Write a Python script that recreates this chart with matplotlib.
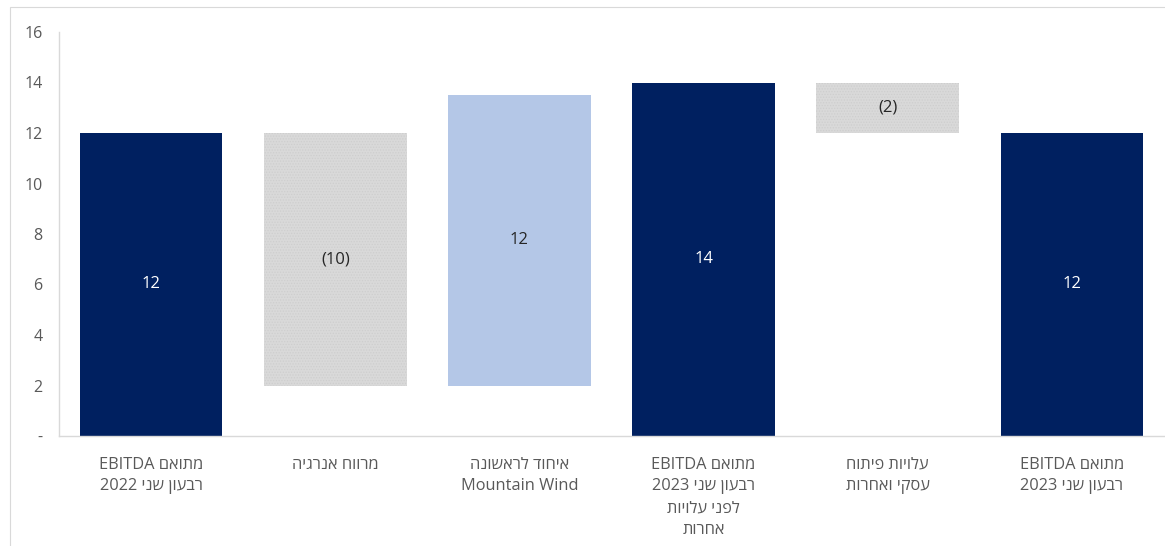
import re
import matplotlib
matplotlib.use("Agg")
import matplotlib.pyplot as plt
from matplotlib.patches import Rectangle

plt.rcParams['font.family'] = ['Open Sans', 'DejaVu Sans']
plt.rcParams['hatch.linewidth'] = 0.6


def rtl(s):
    # matplotlib draws left to right, so flip Hebrew runs, keep Latin/digit runs in order
    flipped = s[::-1]
    return re.sub(r'[A-Za-z0-9]+(?: [A-Za-z0-9]+)*', lambda m: m.group()[::-1], flipped)


# categories (each a list of lines, logical order)
categories = [
    [rtl("מתואם EBITDA"), rtl("רבעון שני 2022")],
    [rtl("מרווח אנרגיה")],
    [rtl("איחוד לראשונה"), "Mountain Wind"],
    [rtl("מתואם EBITDA"), rtl("רבעון שני 2023"), rtl("לפני עלויות"), rtl("אחרות")],
    [rtl("עלויות פיתוח"), rtl("עסקי ואחרות")],
    [rtl("מתואם EBITDA"), rtl("רבעון שני 2023")],
]
bar_bottom = [0, 2, 2, 0, 12, 0]
bar_top = [12, 12, 13.5, 14, 14, 12]
value_labels = ["12", "(10)", "12", "14", "(2)", "12"]
kinds = ["total", "down", "up", "total", "down", "total"]

yticks = [0, 2, 4, 6, 8, 10, 12, 14, 16]
ytick_labels = ["-", "2", "4", "6", "8", "10", "12", "14", "16"]

NAVY = "#002060"
LIGHT_BLUE = "#b4c7e7"
GREY = "#d9d9d9"
TEXT = "#595959"

fig = plt.figure(figsize=(11.65, 5.46), dpi=100)
W, H = 1165, 546
ax = fig.add_axes([59 / W, 110 / H, (1164 - 59) / W, (436 - 32) / H])

# outer chart frame
fig.patches.append(Rectangle((10 / W, -0.1), 1.2, (546 - 7) / H + 0.1, transform=fig.transFigure,
                             fill=False, edgecolor="#d9d9d9", linewidth=0.8))

x = list(range(len(categories)))
for i in x:
    h = bar_top[i] - bar_bottom[i]
    if kinds[i] == "total":
        ax.bar(i, h, bottom=bar_bottom[i], width=0.775, color=NAVY, zorder=2)
        tc = "white"
    elif kinds[i] == "up":
        ax.bar(i, h, bottom=bar_bottom[i], width=0.775, color=LIGHT_BLUE, zorder=2)
        tc = "#262626"
    else:
        ax.bar(i, h, bottom=bar_bottom[i], width=0.775, facecolor=GREY,
               edgecolor="#cecece", linewidth=0, hatch="......", zorder=2)
        tc = "#262626"
    ax.text(i, bar_bottom[i] + h / 2, value_labels[i], ha="center", va="center",
            color=tc, fontsize=12, zorder=3)

ax.set_xlim(-0.5, len(categories) - 0.5)
ax.set_ylim(0, 16)
ax.set_yticks(yticks)
ax.set_yticklabels(ytick_labels, color=TEXT, fontsize=11.5)
ax.tick_params(axis="y", length=0, pad=12)
ax.set_xticks(x)
ax.set_xticklabels(["\n".join(c) for c in categories], color=TEXT, fontsize=11.8,
                   linespacing=1.47)
ax.tick_params(axis="x", length=0, pad=15)

for side in ["top", "right"]:
    ax.spines[side].set_visible(False)
ax.spines["left"].set_color("#d9d9d9")
ax.spines["bottom"].set_color("#d9d9d9")
ax.spines["left"].set_linewidth(1)
ax.spines["bottom"].set_linewidth(1)

fig.savefig("out.png", dpi=100)
